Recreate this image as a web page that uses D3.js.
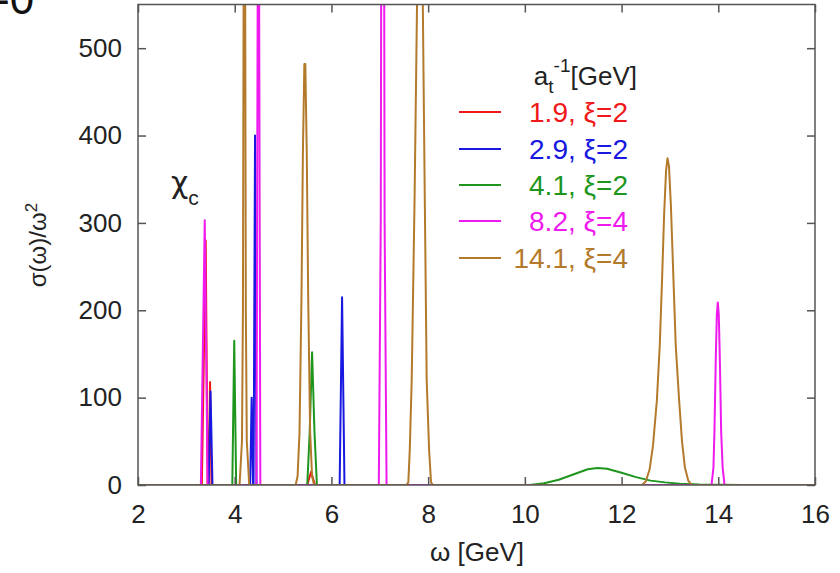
<!DOCTYPE html>
<html>
<head>
<meta charset="utf-8">
<script src="https://cdn.jsdelivr.net/npm/d3@7"></script>
<style>
  body { margin: 0; background: #fff; }
  svg { display: block; font-family: "Liberation Sans", Arial, sans-serif; }
</style>
</head>
<body>
<script>
const w = 840;
const h = 573;

// x ticks / y ticks
const xTicks = [2, 4, 6, 8, 10, 12, 14, 16];
const yTicks = [0, 100, 200, 300, 400, 500];

// series: [omega, sigma/omega^2] points
const red19 = [[2,0],[3.32,0],[3.40,280],[3.44,0],[3.46,0],[3.49,118],[3.52,0],[5.5,0],[5.58,15],[5.66,0],[16,0]];
const blue29 = [[2,0],[3.46,0],[3.50,107],[3.54,0],[4.32,0],[4.35,100],[4.38,0],[4.39,0],[4.42,400],[4.45,0],[6.17,0],[6.22,215],[6.27,0],[16,0]];
const green41 = [[2,0],[3.95,0],[3.99,165],[4.03,0],[5.5,0],[5.55,60],[5.6,152],[5.65,60],[5.7,0],
  [10.1,0],[10.4,2],[10.7,6],[11.0,12],[11.3,18],[11.5,19.5],[11.7,18.5],[12.0,14],[12.3,9],[12.6,5],[12.9,3],[13.2,1.5],[13.6,0.5],[14.5,0],[16,0]];
const magenta82 = [[2,0],[3.3,0],[3.38,303],[3.44,0],[4.45,0],[4.49,900],[4.53,0],[6.98,0],[7.02,300],[7.06,1500],[7.10,300],[7.14,0],
  [13.86,0],[13.9,20],[13.92,60],[13.95,150],[13.97,195],[13.99,209],[14.01,195],[14.03,150],[14.06,60],[14.09,20],[14.13,0],[16,0]];
const brown141 = [[2,0],[4.1,0],[4.15,50],[4.17,200],[4.2,1000],[4.23,200],[4.25,50],[4.3,0],
  [5.26,0],[5.3,10],[5.34,60],[5.38,212],[5.41,380],[5.44,482],[5.46,482],[5.49,380],[5.52,212],[5.56,60],[5.6,10],[5.64,0],
  [7.55,0],[7.59,3],[7.62,40],[7.66,120],[7.72,330],[7.77,550],[7.83,800],[7.89,550],[7.93,330],[7.97,120],[8.02,40],[8.06,3],[8.1,0],
  [12.42,0],[12.5,4],[12.58,18],[12.65,45],[12.73,97],[12.79,160],[12.84,240],[12.88,310],[12.92,360],[12.95,374],[12.98,365],[13.02,320],[13.07,240],[13.12,160],[13.19,97],[13.25,50],[13.31,20],[13.38,5],[13.45,0],[16,0]];

const seriesNames = ["1.9, \u03be=2", "2.9, \u03be=2", "4.1, \u03be=2", "8.2, \u03be=4", "14.1, \u03be=4"];
const seriesData = [red19, blue29, green41, magenta82, brown141];
const colors = ["#f01818", "#1818e0", "#1e961e", "#ee1aee", "#b47a2c"];

const plotLeft = 138, plotRight = 815, plotTop = 4.5, plotBottom = 485;

const svg = d3.select("body").append("svg")
  .attr("width", w)
  .attr("height", h);

const x = d3.scaleLinear().domain([2, 16]).range([plotLeft, plotRight]);
const y = d3.scaleLinear().domain([0, 550]).range([plotBottom, plotTop]);

svg.append("clipPath").attr("id", "clip")
  .append("rect")
  .attr("x", plotLeft).attr("y", plotTop)
  .attr("width", plotRight - plotLeft).attr("height", plotBottom - plotTop);

// curves
const line = d3.line().x(d => x(d[0])).y(d => y(d[1]));
seriesData.forEach((data, i) => {
  svg.append("path")
    .datum(data)
    .attr("clip-path", "url(#clip)")
    .attr("fill", "none")
    .attr("stroke", colors[i])
    .attr("stroke-width", 2)
    .attr("stroke-linejoin", "round")
    .attr("d", line);
});

// frame + inward ticks (gnuplot style, mirrored)
const frameColor = "#555";
svg.append("rect")
  .attr("x", plotLeft).attr("y", plotTop)
  .attr("width", plotRight - plotLeft).attr("height", plotBottom - plotTop)
  .attr("fill", "none").attr("stroke", frameColor).attr("stroke-width", 1.5);

const xAxis = d3.axisBottom(x).tickValues(xTicks).tickSizeInner(-8).tickSizeOuter(0).tickPadding(20);
const gx = svg.append("g").attr("transform", `translate(0,${plotBottom})`).call(xAxis);
const xTop = d3.axisTop(x).tickValues(xTicks).tickSizeInner(-8).tickSizeOuter(0).tickFormat("");
const gxt = svg.append("g").attr("transform", `translate(0,${plotTop})`).call(xTop);

const yAxis = d3.axisLeft(y).tickValues(yTicks).tickSizeInner(-8).tickSizeOuter(0).tickPadding(16);
const gy = svg.append("g").attr("transform", `translate(${plotLeft},0)`).call(yAxis);
const yRight = d3.axisRight(y).tickValues(yTicks).tickSizeInner(-8).tickSizeOuter(0).tickFormat("");
const gyr = svg.append("g").attr("transform", `translate(${plotRight},0)`).call(yRight);

[gx, gxt, gy, gyr].forEach(g => {
  g.select(".domain").remove();
  g.selectAll(".tick line").attr("stroke", frameColor).attr("stroke-width", 1.5);
  g.selectAll(".tick text").attr("fill", "#222").style("font-size", "26px");
});
gx.selectAll(".tick text").attr("dy", "0.71em");

// axis titles
svg.append("text")
  .attr("x", 477).attr("y", 561)
  .attr("text-anchor", "middle")
  .style("font-size", "26px").attr("fill", "#222")
  .text("\u03c9 [GeV]");

const yl = svg.append("text")
  .attr("transform", "translate(46,245) rotate(-90)")
  .attr("text-anchor", "middle")
  .style("font-size", "24px").attr("fill", "#222");
yl.append("tspan").text("\u03c3(\u03c9)/\u03c9");
yl.append("tspan").attr("baseline-shift", "super").style("font-size", "17px").text("2");

// chi_c label
const chi = svg.append("text")
  .attr("x", 171).attr("y", 193)
  .style("font-size", "30px").attr("fill", "#222");
chi.append("tspan").style("font-family", "DejaVu Sans").text("\u03c7");
chi.append("tspan").attr("baseline-shift", "sub").style("font-size", "21px").text("c");

// legend
const lt = svg.append("text")
  .attr("x", 637).attr("y", 85)
  .attr("text-anchor", "end")
  .style("font-size", "26px").attr("fill", "#222");
lt.append("tspan").text("a");
lt.append("tspan").attr("dy", 8).style("font-size", "19px").text("t");
lt.append("tspan").attr("dy", -21).style("font-size", "19px").text("-1");
lt.append("tspan").attr("dy", 13).text("[GeV]");

const legendY = [112, 149, 185, 221, 258];
seriesNames.forEach((name, i) => {
  svg.append("line")
    .attr("x1", 459).attr("x2", 501)
    .attr("y1", legendY[i]).attr("y2", legendY[i])
    .attr("stroke", colors[i]).attr("stroke-width", 2);
  svg.append("text")
    .attr("x", 628).attr("y", legendY[i] + 10)
    .attr("text-anchor", "end")
    .style("font-size", "28px")
    .attr("fill", colors[i])
    .text(name);
});

// leftover glyph from the cropped page at top-left
svg.append("text")
  .attr("x", -5).attr("y", 14)
  .style("font-size", "44px").attr("fill", "#111")
  .text("-0");
</script>
</body>
</html>
